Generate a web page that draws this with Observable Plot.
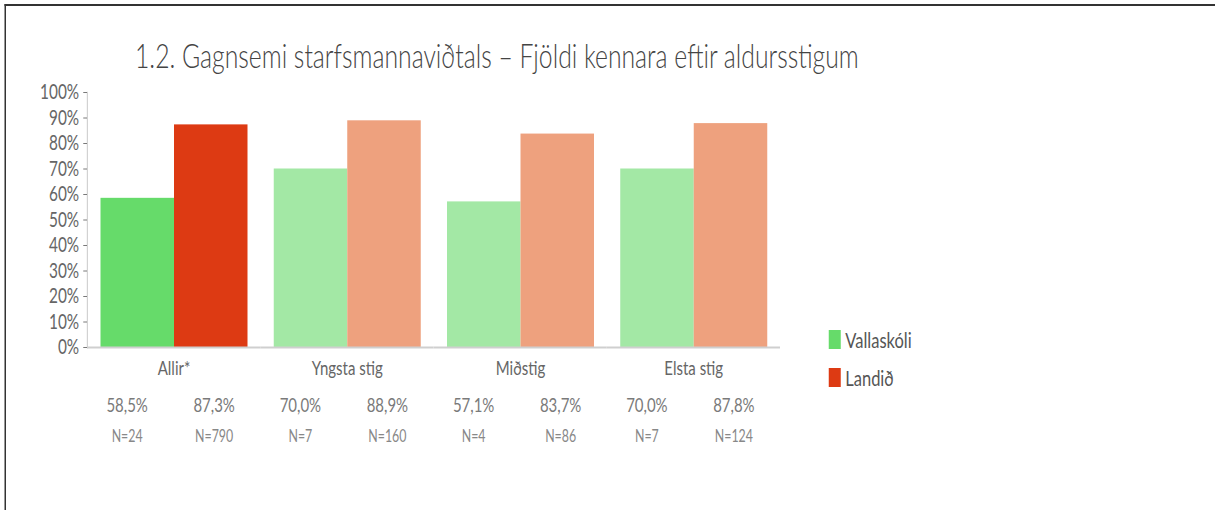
<!DOCTYPE html>
<html><head><meta charset="utf-8">
<script src="https://cdn.jsdelivr.net/npm/d3@7"></script>
<script src="https://cdn.jsdelivr.net/npm/@observablehq/plot@0.6"></script>
<style>
html,body{margin:0;padding:0;background:#fff;overflow:hidden;}
#page{position:relative;width:1620px;height:510px;transform:scaleX(0.75);transform-origin:0 0;font-family:Lato,sans-serif;}
#border{position:absolute;left:6px;top:4px;right:-30px;bottom:-30px;border-left:2px solid #333;border-top:2px solid #333;}
#title{position:absolute;left:180px;top:36px;font-size:33px;font-weight:300;color:#444;white-space:nowrap;line-height:38px;}
#chart{position:absolute;left:0;top:0;}
#legend{position:absolute;left:1105px;top:329px;font-size:22px;color:#555;}
.item{display:flex;align-items:center;height:20px;margin-bottom:18px;}
.sw{width:16px;height:19px;margin-right:6px;}
</style></head><body>
<div id="page"><div id="border"></div><div id="title"></div><div id="chart"></div><div id="legend"></div></div>
<script>
const title = "1.2. Gagnsemi starfsmannaviðtals – Fjöldi kennara eftir aldursstigum";
const categories = ["Allir*", "Yngsta stig", "Miðstig", "Elsta stig"];
const series = ["Vallaskóli", "Landið"];
const vallaskoli = [58.5, 70.0, 57.1, 70.0];
const landid = [87.3, 88.9, 83.7, 87.8];
const nVallaskoli = [24, 7, 4, 7];
const nLandid = [790, 160, 86, 124];
const yTicks = [0, 10, 20, 30, 40, 50, 60, 70, 80, 90, 100];

// styles
const fillVallaskoli = ["#66db6a", "#a3e8a5", "#a3e8a5", "#a3e8a5"];
const fillLandid = ["#dd3a13", "#eea17e", "#eea17e", "#eea17e"];
const legendColors = ["#66db6a", "#dd3a13"];
const labelShift = {"Vallaskóli": -14, "Landið": 4};

const rows = [];
categories.forEach((c, i) => {
  rows.push({category: c, series: series[0], value: vallaskoli[i], n: nVallaskoli[i], fill: fillVallaskoli[i]});
  rows.push({category: c, series: series[1], value: landid[i], n: nLandid[i], fill: fillLandid[i]});
});
const pct = v => v.toFixed(1).replace(".", ",") + "%";
const vRows = rows.filter(d => d.series === series[0]);
const lRows = rows.filter(d => d.series === series[1]);

document.getElementById("title").textContent = title;

function labels(data, dx) {
  return [
    Plot.text(data, {fx: "category", x: "series", frameAnchor: "bottom", dy: 64, dx, text: d => pct(d.value), fontSize: 20, fill: "#7a7a7a"}),
    Plot.text(data, {fx: "category", x: "series", frameAnchor: "bottom", dy: 94, dx, text: d => "N=" + d.n, fontSize: 16.5, fill: "#888"})
  ];
}

const chart = Plot.plot({
  width: 1620,
  height: 460,
  marginLeft: 115,
  marginRight: 580,
  marginTop: 92,
  marginBottom: 113,
  style: {fontFamily: "Lato, sans-serif", background: "transparent"},
  fx: {domain: categories, padding: 0, label: null},
  x: {domain: series, paddingInner: 0, paddingOuter: 0.176, axis: null},
  y: {domain: [0, 100], label: null},
  color: {type: "identity"},
  marks: [
    Plot.barY(rows, {fx: "category", x: "series", y: "value", fill: "fill"}),
    Plot.ruleY([0], {stroke: "#cfcfcf", strokeWidth: 2}),
    Plot.frame({anchor: "left", facetAnchor: "left", stroke: "#cfcfcf", strokeWidth: 1.5}),
    Plot.axisY({ticks: yTicks, tickFormat: d => d + "%", tickSize: 5, tickPadding: 6, fontSize: 20.5, color: "#666", label: null}),
    Plot.axisFx({anchor: "bottom", tickSize: 0, tickPadding: 13, fontSize: 20, color: "#666", label: null}),
    ...labels(vRows, labelShift["Vallaskóli"]),
    ...labels(lRows, labelShift["Landið"])
  ]
});
document.getElementById("chart").appendChild(chart);

const legend = document.getElementById("legend");
series.forEach((s, i) => {
  const item = document.createElement("div");
  item.className = "item";
  const sw = document.createElement("div");
  sw.className = "sw";
  sw.style.background = legendColors[i];
  const t = document.createElement("span");
  t.textContent = s;
  item.appendChild(sw);
  item.appendChild(t);
  legend.appendChild(item);
});
</script>
</body></html>
